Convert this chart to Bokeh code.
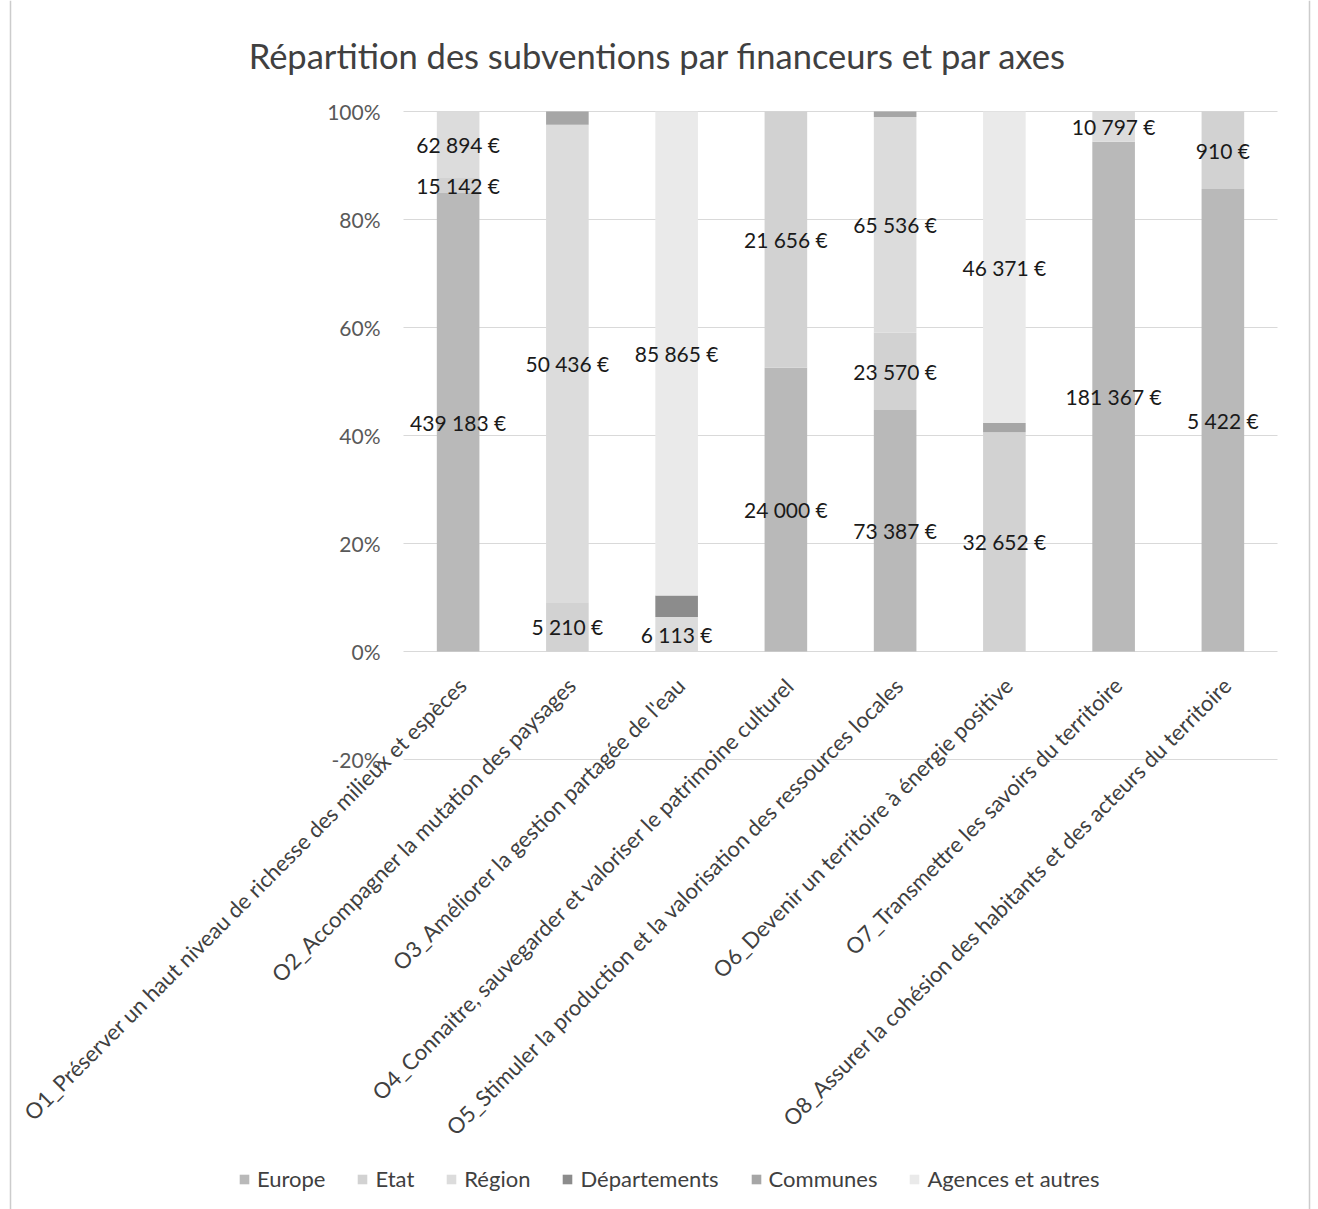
import math

from bokeh.core.properties import value
from bokeh.embed import file_html
from bokeh.models import (ColumnDataSource, Label, Legend, LegendItem, Range1d)
from bokeh.plotting import figure
from bokeh.resources import INLINE

# Axes of the programme (categories)
axes_labels = [
    "O1_Préserver un haut niveau de richesse des milieux et espèces",
    "O2_Accompagner la mutation des paysages",
    "O3_Améliorer la gestion partagée de l'eau",
    "O4_Connaitre, sauvegarder et valoriser le patrimoine culturel",
    "O5_Stimuler la production et la valorisation des ressources locales",
    "O6_Devenir un territoire à énergie positive",
    "O7_Transmettre les savoirs du territoire",
    "O8_Assurer la cohésion des habitants et des acteurs du territoire",
]

funders = ["Europe", "Etat", "Région", "Départements", "Communes", "Agences et autres"]

# Subsidies in euros, one list per funder, one value per axis
europe = [439183, 0, 0, 24000, 73387, 0, 181367, 5422]
etat = [15142, 5210, 0, 21656, 23570, 32652, 0, 910]
region = [62894, 50436, 6113, 0, 65536, 0, 10797, 0]
departements = [0, 0, 3800, 0, 0, 0, 0, 0]
communes = [0, 1400, 0, 0, 1640, 1370, 0, 0]
agences = [0, 0, 85865, 0, 0, 46371, 0, 0]

# Funders whose amounts are printed on the bars
labelled_funders = ["Europe", "Etat", "Région", "Agences et autres"]

y_ticks = [-0.2, 0.0, 0.2, 0.4, 0.6, 0.8, 1.0]
y_tick_labels = ["-20%", "0%", "20%", "40%", "60%", "80%", "100%"]

colors = ["#b9b9b9", "#d2d2d2", "#dcdcdc", "#8c8c8c", "#a6a6a6", "#eaeaea"]
FONT = "Lato"

W, H = 1318, 1209
# pixel geometry of the plotting area inside the canvas
PLOT_LEFT, CAT_W = 403, 109.25      # left edge, width of one category
PLOT_TOP, UNIT_H = 111, 540         # y=100% position, pixels per 100%

series = [europe, etat, region, departements, communes, agences]
n = len(axes_labels)
xs = list(range(1, n + 1))
totals = [sum(s[i] for s in series) for i in range(n)]

data = {"x": xs}
keys = []
for k, vals in enumerate(series):
    key = f"s{k}"
    keys.append(key)
    data[key] = [v / t for v, t in zip(vals, totals)]
source = ColumnDataSource(data)

# The frame covers the whole canvas; ranges are set so that the bars
# occupy the same pixel box as a classic plot area.
x0 = 0.5 - PLOT_LEFT / CAT_W
x1 = 0.5 + (W - PLOT_LEFT) / CAT_W
y1 = 1 + PLOT_TOP / UNIT_H
y0 = 1 - (H - PLOT_TOP) / UNIT_H


def px_x(px):
    return 0.5 + (px - PLOT_LEFT) / CAT_W


def px_y(py):
    return 1 + (PLOT_TOP - py) / UNIT_H


p = figure(
    width=W, height=H,
    x_range=Range1d(x0, x1), y_range=Range1d(y0, y1),
    x_axis_location=None, y_axis_location=None,
    toolbar_location=None, output_backend="svg",
    min_border=0, outline_line_color=None,
    background_fill_color="white", border_fill_color="white",
)
p.grid.visible = False

# Chart border (left and right edges)
p.segment(x0=[px_x(10), px_x(1309)], x1=[px_x(10), px_x(1309)],
          y0=[y0, y0], y1=[y1, y1], line_color="#cccccc", line_width=1.5)

# Horizontal gridlines
p.segment(x0=[0.5] * len(y_ticks), x1=[n + 0.5] * len(y_ticks),
          y0=y_ticks, y1=y_ticks, line_color="#d9d9d9", line_width=1)

# Y tick labels
p.text(x=[0.5 - 23 / CAT_W] * len(y_ticks), y=y_ticks, text=y_tick_labels,
       text_align="right", text_baseline="middle",
       text_font=value(FONT), text_font_size="21px", text_color="#595959")

renderers = p.vbar_stack(keys, x="x", width=0.39, color=colors,
                         line_color=None, source=source)

# Value labels centred on each segment
lx, ly, lt = [], [], []
for i in range(n):
    bottom = 0.0
    for name, vals in zip(funders, series):
        frac = vals[i] / totals[i]
        if vals[i] > 0 and name in labelled_funders:
            lx.append(xs[i])
            ly.append(bottom + frac / 2)
            lt.append(f"{vals[i]:,}".replace(",", " ") + " €")
        bottom += frac
p.text(x=lx, y=ly, text=lt, text_align="center", text_baseline="middle",
       text_font=value(FONT), text_font_size="21px", text_color="#1a1a1a")

# Rotated category labels below the zero line
p.text(x=[x + 0.04 for x in xs], y=[-0.055] * n, text=axes_labels,
       angle=math.pi / 4, text_align="right", text_baseline="middle",
       text_font=value(FONT), text_font_size="22px", text_color="#404040")

# Title
p.add_layout(Label(x=px_x(657), y=px_y(55),
                   text="Répartition des subventions par financeurs et par axes",
                   text_align="center", text_baseline="middle",
                   text_font=FONT, text_font_size="34.5px", text_color="#404040"))

legend = Legend(
    items=[LegendItem(label=f, renderers=[r]) for f, r in zip(funders, renderers)],
    orientation="horizontal", location=(238, 17),
    label_text_font=FONT, label_text_font_size="22px", label_text_color="#404040",
    glyph_width=12, glyph_height=12, label_standoff=7, spacing=31,
    padding=0, margin=0, border_line_color=None, background_fill_alpha=0,
)
p.add_layout(legend)

open("out.html", "w").write(file_html(p, INLINE))
